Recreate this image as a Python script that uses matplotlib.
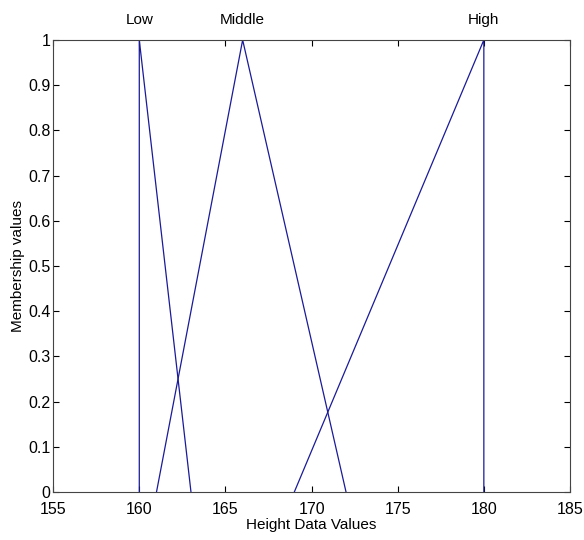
import matplotlib
matplotlib.use('Agg')
import matplotlib.pyplot as plt

plt.rcParams['font.family'] = ['Liberation Sans', 'DejaVu Sans']

# membership functions (x points, y points)
low_x = [160, 160, 163]
low_y = [0, 1, 0]
mid_x = [161, 166, 172]
mid_y = [0, 1, 0]
high_x = [169, 180, 180]
high_y = [0, 1, 0]

names = ['Low', 'Middle', 'High']
peaks = [160, 166, 180]

fig = plt.figure(figsize=(5.84, 5.40), dpi=100)
ax = fig.add_axes([0.091, 0.089, 0.885, 0.837])

for xs, ys in [(low_x, low_y), (mid_x, mid_y), (high_x, high_y)]:
    ax.plot(xs, ys, color='#1a1a9a', linewidth=0.9)

for n, p in zip(names, peaks):
    ax.text(p, 1.028, n, ha='center', va='bottom', fontsize=11)

ax.set_xlim(155, 185)
ax.set_ylim(0, 1)
ax.set_xticks(range(155, 186, 5))
ax.set_yticks([i / 10 for i in range(11)])
ax.set_yticklabels(['0', '0.1', '0.2', '0.3', '0.4', '0.5', '0.6', '0.7', '0.8', '0.9', '1'])
ax.tick_params(direction='in', top=True, right=True, labelsize=11.5, length=4)
ax.tick_params(axis='x', pad=7)
ax.tick_params(axis='y', pad=2)
for s in ax.spines.values():
    s.set_color('#444444')
ax.set_xlabel('Height Data Values', fontsize=11, labelpad=1)
ax.set_ylabel('Membership values', fontsize=11, labelpad=2)

fig.savefig('out.png')
